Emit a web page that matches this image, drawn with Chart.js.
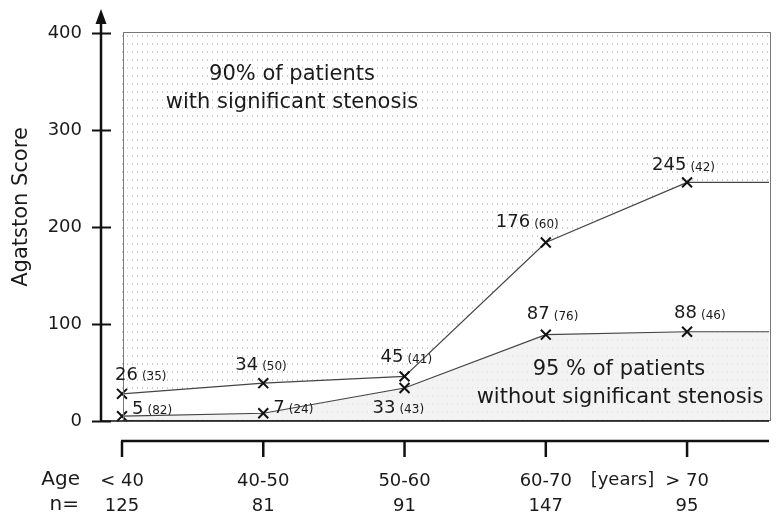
<!DOCTYPE html>
<html>
<head>
<meta charset="utf-8">
<script src="https://cdn.jsdelivr.net/npm/chart.js@4"></script>
<style>
  body { margin: 0; background: #fff; }
  #wrap { width: 778px; height: 515px; position: relative; }
</style>
</head>
<body>
<div id="wrap"><canvas id="chart"></canvas></div>
<script>
// age groups and number of patients per group
const ageGroups = ["< 40", "40-50", "50-60", "60-70", "> 70"];
const nCounts = ["125", "81", "91", "147", "95"];

// plotted positions (Agatston score)
const upperScores = [28, 39, 46, 184, 246];
const lowerScores = [5, 8, 34, 89, 92];

// printed labels next to each mark: value and (n)
const upperLabels = ["26", "34", "45", "176", "245"];
const upperN = ["(35)", "(50)", "(41)", "(60)", "(42)"];
const lowerLabels = ["5", "7", "33", "87", "88"];
const lowerN = ["(82)", "(24)", "(43)", "(76)", "(46)"];

const yTicks = [0, 100, 200, 300, 400];
const xEnd = 4.58;

// label placement relative to the mark [dx, dy]
const upperOffsets = [[-7, -19], [-28, -18], [-24, -19], [-50, -20], [-35, -17]];
const lowerOffsets = [[10, -7], [10, -5], [-32, 20], [-19, -20], [-13, -18]];

const FONT = "'DejaVu Sans', sans-serif";

function makePattern(bg, dot, w, h) {
    const c = document.createElement("canvas");
    c.width = w;
    c.height = h;
    const g = c.getContext("2d");
    g.fillStyle = bg;
    g.fillRect(0, 0, w, h);
    g.fillStyle = dot;
    g.fillRect(2, 3, 1, 2);
    return g.createPattern(c, "repeat");
}

function toPoints(vals) {
    const pts = vals.map((v, i) => ({ x: i, y: v }));
    pts.push({ x: xEnd, y: vals[vals.length - 1] });
    return pts;
}

const upperDots = makePattern("#ffffff", "#cdcdcd", 5, 8);
const lowerDots = makePattern("#f3f3f3", "#e6e6e6", 5, 8);

const decor = {
    id: "decor",
    afterDraw(chart) {
        const ctx = chart.ctx;
        const a = chart.chartArea;
        const xs = chart.scales.x;
        const ys = chart.scales.y;
        ctx.save();

        // plot frame
        ctx.strokeStyle = "#777";
        ctx.lineWidth = 1;
        ctx.strokeRect(a.left + 1.5, a.top - 0.5, a.right - a.left, a.bottom - a.top);

        // y axis with arrow
        const ax = 101;
        ctx.strokeStyle = "#111";
        ctx.fillStyle = "#111";
        ctx.lineWidth = 2.5;
        ctx.beginPath();
        ctx.moveTo(ax, a.bottom);
        ctx.lineTo(ax, 20);
        ctx.stroke();
        ctx.beginPath();
        ctx.moveTo(ax, 9);
        ctx.lineTo(ax - 5.5, 24);
        ctx.lineTo(ax + 5.5, 24);
        ctx.closePath();
        ctx.fill();
        ctx.lineWidth = 2;
        yTicks.forEach(v => {
            const y = Math.round(ys.getPixelForValue(v)) + 0.5;
            ctx.beginPath();
            ctx.moveTo(92, y);
            ctx.lineTo(111, y);
            ctx.stroke();
        });
        // zero line
        ctx.lineWidth = 1.5;
        ctx.beginPath();
        ctx.moveTo(ax, a.bottom);
        ctx.lineTo(a.right, a.bottom);
        ctx.stroke();

        // detached x axis
        const xl = 441;
        ctx.lineWidth = 2.5;
        ctx.beginPath();
        ctx.moveTo(xs.getPixelForValue(0) - 1, xl);
        ctx.lineTo(a.right, xl);
        ctx.stroke();
        ageGroups.forEach((g, i) => {
            const x = xs.getPixelForValue(i);
            ctx.beginPath();
            ctx.moveTo(x, xl);
            ctx.lineTo(x, 457);
            ctx.stroke();
        });

        // axis words
        ctx.fillStyle = "#1a1a1a";
        ctx.font = "20px " + FONT;
        ctx.textAlign = "right";
        ctx.textBaseline = "middle";
        ctx.fillText("Age", 80, 480);
        ctx.fillText("n=", 79, 505);
        ctx.textAlign = "center";
        ctx.font = "18px " + FONT;
        ctx.fillText("[years]", (xs.getPixelForValue(3) + xs.getPixelForValue(4)) / 2 + 6, 480);

        ctx.save();
        ctx.translate(22, 207);
        ctx.rotate(-Math.PI / 2);
        ctx.font = "21px " + FONT;
        ctx.fillText("Agatston Score", 0, 0);
        ctx.restore();

        // region captions
        ctx.font = "21px " + FONT;
        ctx.fillText("90% of patients", 292, 75);
        ctx.fillText("with significant stenosis", 292, 103);
        ctx.fillText("95 % of patients", 619, 370);
        ctx.fillText("without significant stenosis", 620, 398);

        // value labels
        ctx.textAlign = "left";
        function labelSet(vals, big, small, offs) {
            vals.forEach((v, i) => {
                const px = xs.getPixelForValue(i) + offs[i][0];
                const py = ys.getPixelForValue(v) + offs[i][1];
                ctx.font = "18px " + FONT;
                ctx.fillText(big[i], px, py);
                const w = ctx.measureText(big[i]).width;
                ctx.font = "12px " + FONT;
                ctx.fillText(small[i], px + w + 4, py + 2);
            });
        }
        labelSet(upperScores, upperLabels, upperN, upperOffsets);
        labelSet(lowerScores, lowerLabels, lowerN, lowerOffsets);

        ctx.restore();
    }
};

const ctx = document.getElementById("chart").getContext("2d");

new Chart(ctx, {
    type: "line",
    data: {
        datasets: [
            {
                label: "with significant stenosis",
                data: toPoints(upperScores),
                borderColor: "#444",
                borderWidth: 1.2,
                backgroundColor: upperDots,
                fill: "end",
                clip: false,
                pointStyle: "crossRot",
                pointRadius: upperScores.map(() => 7).concat([0]),
                pointBorderColor: "#111",
                pointBorderWidth: 2,
                tension: 0
            },
            {
                label: "without significant stenosis",
                data: toPoints(lowerScores),
                borderColor: "#444",
                borderWidth: 1.2,
                backgroundColor: lowerDots,
                fill: "origin",
                clip: false,
                pointStyle: "crossRot",
                pointRadius: lowerScores.map(() => 7).concat([0]),
                pointBorderColor: "#111",
                pointBorderWidth: 2,
                tension: 0
            }
        ]
    },
    options: {
        responsive: true,
        maintainAspectRatio: false,
        animation: false,
        layout: { padding: { top: 33, left: 0, right: 0, bottom: 0 } },
        plugins: {
            legend: { display: false },
            tooltip: { enabled: false }
        },
        scales: {
            x: {
                type: "linear",
                min: 0,
                max: xEnd,
                grid: { display: false, drawTicks: false },
                border: { display: false },
                afterBuildTicks: scale => {
                    scale.ticks = ageGroups.map((g, i) => ({ value: i }));
                },
                afterFit: scale => {
                    scale.height = 94;
                    scale.paddingLeft = 0;
                    scale.paddingRight = 0;
                },
                ticks: {
                    autoSkip: false,
                    maxRotation: 0,
                    padding: 48,
                    color: "#1a1a1a",
                    font: { family: FONT, size: 18, lineHeight: 1.4 },
                    callback: v => [ageGroups[v], nCounts[v]]
                }
            },
            y: {
                min: 0,
                max: 400,
                grid: { display: false, drawTicks: false },
                border: { display: false },
                afterFit: scale => {
                    scale.width = 122;
                    scale.paddingTop = 0;
                    scale.paddingBottom = 0;
                },
                ticks: {
                    stepSize: 100,
                    padding: 40,
                    color: "#1a1a1a",
                    font: { family: FONT, size: 18 }
                }
            }
        }
    },
    plugins: [decor]
});
</script>
</body>
</html>
